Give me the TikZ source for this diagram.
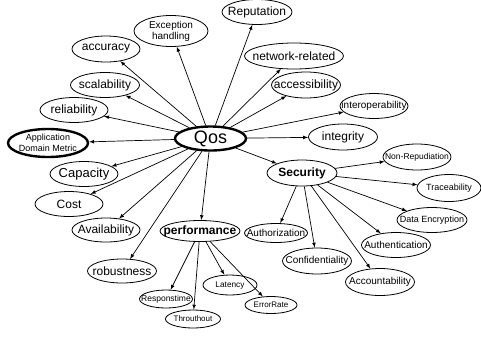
\documentclass[tikz,border=0pt]{standalone}
\usepackage{fontspec}
\setmainfont{Liberation Sans}
\usetikzlibrary{shapes, arrows, positioning}

\begin{document}
\begin{tikzpicture}[
    x=1pt, y=-1pt,
    auto,
    % oval for every attribute
    attr/.style={
        ellipse, 
        draw, 
        line width=0.8pt, 
        inner sep=-30pt, 
        align=center, 
        minimum width=69pt, 
        minimum height=25pt, 
        font=\fontsize{12}{13}\selectfont
    },
    hub/.style={attr, line width=2.4pt},
    midfont/.style={font=\fontsize{10}{11}\selectfont},
    smallfont/.style={font=\fontsize{8.5}{9.5}\selectfont},
    line/.style={draw, -latex, line width=0.7pt}
]
    \useasboundingbox (0,0) rectangle (481,338);

    % Nodes
    \node [hub, minimum width=71pt, minimum height=24pt, font=\fontsize{18}{20}\selectfont] (qos) at (210.5,138.5) {Qos};
    \node [attr, minimum width=70pt] (reputation) at (257,12) {Reputation};
    \node [attr, midfont, minimum width=74pt, minimum height=31pt] (exception) at (171,31) {Exception\\handling};
    \node [attr, minimum width=68pt, minimum height=26pt] (accuracy) at (106,49) {accuracy};
    \node [attr, minimum width=99pt, minimum height=26pt] (network) at (294,56) {network-related};
    \node [attr] (scalability) at (105,85) {scalability};
    \node [attr, minimum height=26pt] (accessibility) at (306,85) {accessibility};
    \node [attr, minimum width=68pt] (reliability) at (74,110) {reliability};
    \node [attr, midfont, minimum width=68pt] (interop) at (374,106) {interoperability};
    \node [hub, minimum width=80pt, minimum height=28pt, font=\fontsize{9}{10.5}\selectfont] (domain) at (48,143) {Application\\Domain Metric};
    \node [attr, minimum height=26pt] (integrity) at (343,137) {integrity};
    \node [attr, minimum width=68pt, font=\fontsize{13}{14}\selectfont] (capacity) at (84,174) {Capacity};
    \node [attr, smallfont, minimum width=68pt, minimum height=26pt] (nonrep) at (417,157) {Non-Repudiation};
    \node [attr, minimum width=70pt, minimum height=26pt, font=\fontsize{12}{13}\bfseries] (security) at (302,173) {Security};
    \node [attr, minimum width=64pt, minimum height=27pt, font=\fontsize{9}{10}\selectfont] (trace) at (449,188) {Traceability};
    \node [attr, minimum width=68pt] (cost) at (69,204) {Cost};
    \node [attr, minimum width=70pt, font=\fontsize{9}{10}\selectfont] (dataenc) at (432,220) {Data Encryption};
    \node [attr, minimum width=68pt, minimum height=24pt] (availability) at (106,230) {Availability};
    \node [attr, minimum width=80pt, minimum height=21pt, font=\fontsize{12}{13}\bfseries] (performance) at (200,231) {performance};
    \node [attr, midfont, minimum width=63pt, minimum height=19pt] (authorization) at (276,233) {Authorization};
    \node [attr, midfont] (authentication) at (396,245) {Authentication};
    \node [attr, midfont, minimum height=26pt] (confidentiality) at (317,261) {Confidentiality};
    \node [attr, minimum height=24pt] (robustness) at (122,271) {robustness};
    \node [attr, minimum width=54pt, minimum height=20pt, font=\fontsize{8.3}{9}\selectfont] (latency) at (230,285) {Latency};
    \node [attr, midfont, minimum height=27pt] (accountability) at (380,282) {Accountability};
    \node [attr, smallfont, minimum width=53pt, minimum height=18pt] (responstime) at (166,299) {Responstime};
    \node [attr, minimum width=52pt, minimum height=17pt, font=\fontsize{8}{9}\selectfont] (errorrate) at (271,305) {ErrorRate};
    \node [attr, minimum width=55pt, minimum height=18pt, font=\fontsize{8}{9}\selectfont] (throuthout) at (193,319) {Throuthout};

    % Paths (Arrows) from Qos
    \path [line] (qos) -- (reputation);
    \path [line] (qos) -- (exception);
    \path [line] (qos) -- (accuracy);
    \path [line] (qos) -- (network);
    \path [line] (qos) -- (scalability);
    \path [line] (qos) -- (accessibility);
    \path [line] (qos) -- (reliability);
    \path [line] (qos) -- (interop);
    \path [line] (qos) -- (domain);
    \path [line] (qos) -- (integrity);
    \path [line] (qos) -- (capacity);
    \path [line] (qos) -- (security);
    \path [line] (qos) -- (cost);
    \path [line] (qos) -- (availability);
    \path [line] (qos) -- (performance);
    \path [line] (qos) -- (robustness);

    % Paths (Arrows) from Security
    \path [line] (security) -- (nonrep);
    \path [line] (security) -- (trace);
    \path [line] (security) -- (dataenc);
    \path [line] (security) -- (authorization);
    \path [line] (security) -- (confidentiality);
    \path [line] (security) -- (authentication);
    \path [line] (security) -- (accountability);

    % Paths (Arrows) from performance
    \path [line] (performance) -- (responstime);
    \path [line] (performance) -- (throuthout);
    \path [line] (performance) -- (latency);
    \path [line] (performance) -- (errorrate);
\end{tikzpicture}
\end{document}
